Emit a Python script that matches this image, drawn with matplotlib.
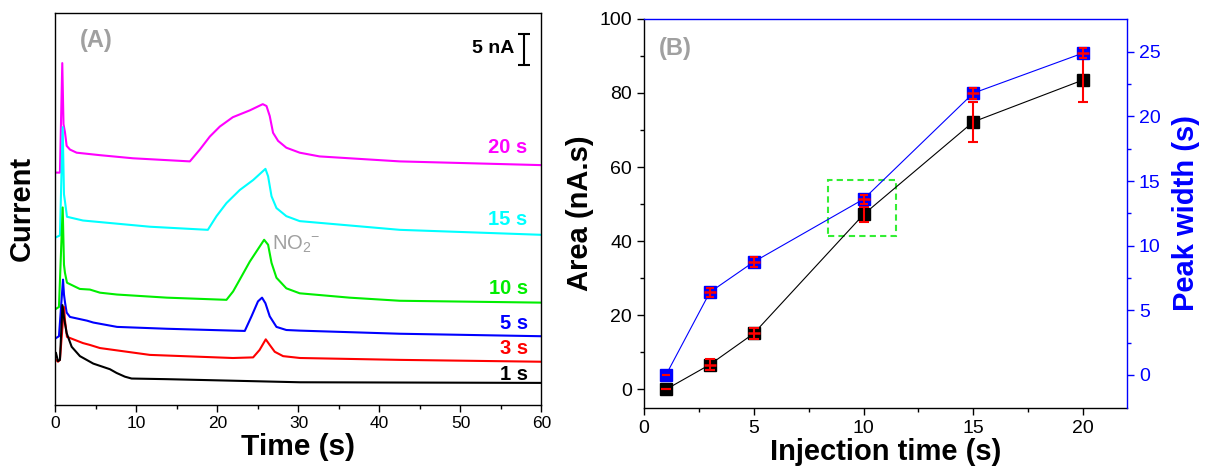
import numpy as np
import matplotlib
matplotlib.use('Agg')
import matplotlib.pyplot as plt
from matplotlib.patches import Rectangle

plt.rcParams['font.family'] = ['Liberation Sans', 'DejaVu Sans']
plt.rcParams['mathtext.fontset'] = 'custom'
plt.rcParams['mathtext.rm'] = 'Liberation Sans'

# ---- panel A: traces (time in s, current in nA, offset for display)
t_20 = [0.06, 0.55, 0.84, 0.99, 1.17, 1.38, 1.79, 2.61, 5.49, 9.56, 16.59, 17.82, 19.06, 20.29, 21.89, 23.99, 25.59,
        26.05, 26.45, 26.86, 27.48, 28.5, 30.15, 32.6, 42.5, 60]
i_20 = [37.3, 37.3, 54.9, 45.1, 43.8, 41.6, 41.0, 40.5, 40.1, 39.6, 39.1, 41.0, 43.1, 44.7, 46.2, 47.3, 48.3,
        48.0, 46.4, 43.7, 42.4, 41.3, 40.5, 39.9, 39.1, 38.5]

t_15 = [0.06, 0.55, 0.89, 1.05, 1.17, 1.42, 3.39, 11.65, 18.81, 19.88, 21.11, 22.75, 24.4, 25.92,
        26.25, 26.67, 27.28, 28.5, 30.15, 42.5, 60]
i_15 = [26.9, 27.2, 44.6, 33.8, 32.7, 30.2, 29.6, 28.6, 28.1, 30.3, 32.4, 34.5, 36.1, 37.9,
        36.7, 33.5, 31.6, 30.3, 29.5, 28.1, 27.3]

t_10 = [0.06, 0.43, 0.89, 1.05, 1.17, 1.42, 3.0, 4.25, 5.49, 7.6, 13.75, 21.11, 21.93, 22.75, 23.99, 25.76,
        26.25, 26.67, 27.28, 28.5, 30.15, 36.3, 42.5, 60]
i_10 = [15.4, 15.7, 31.7, 22.5, 21.2, 19.6, 18.6, 18.5, 18.0, 17.7, 17.2, 16.85, 18.2, 20.1, 23.0, 26.5,
        25.7, 22.8, 20.4, 18.7, 17.9, 17.2, 16.7, 16.4]

t_5 = [0.06, 0.43, 0.93, 1.05, 1.17, 1.38, 1.79, 3.9, 4.67, 7.6, 13.75, 23.37, 24.2, 25.0, 25.5, 25.92,
       26.45, 27.28, 28.5, 30.2, 42.5, 60]
i_5 = [10.7, 11.0, 20.1, 17.7, 16.5, 14.8, 14.1, 13.5, 13.2, 12.5, 12.2, 11.85, 14.2, 16.6, 17.2, 16.3,
       14.2, 12.5, 12.0, 11.9, 11.4, 11.0]

t_3 = [0.06, 0.31, 0.55, 1.05, 1.17, 1.42, 3.39, 4.25, 5.49, 11.65, 21.9, 24.4, 25.2, 25.96, 26.45, 27.07,
       28.1, 30.2, 42.5, 60]
i_3 = [7.2, 6.9, 7.2, 15.7, 13.6, 10.9, 9.9, 9.6, 9.1, 8.0, 7.5, 7.6, 8.8, 10.5, 9.6, 8.5,
       7.8, 7.5, 7.2, 6.9]

t_1 = [0.06, 0.31, 0.55, 0.86, 1.05, 1.38, 2.0, 3.02, 4.67, 6.72, 7.54, 8.57, 9.4, 13.7, 30.2, 60]
i_1 = [8.3, 7.0, 7.2, 16.0, 14.0, 11.5, 9.3, 7.8, 6.6, 5.7, 5.1, 4.5, 4.2, 4.1, 3.6, 3.5]

trace_labels = ['20 s', '15 s', '10 s', '5 s', '3 s', '1 s']
trace_colors = ['#ff00ff', '#00ffff', '#00ee00', '#0000ff', '#ff0000', '#000000']
label_y = [41.4, 29.8, 18.6, 13.1, 9.1, 4.9]

# ---- panel B data
inj_time = [1, 3, 5, 10, 15, 20]
area = [0, 6.7, 15.1, 47.2, 72.2, 83.5]
area_err = [0, 1.4, 1.4, 2.0, 5.4, 6.0]
width = [0, 6.4, 8.75, 13.6, 21.8, 24.9]
width_err = [0, 0.35, 0.4, 0.35, 0.42, 0.4]

fig = plt.figure(figsize=(12.06, 4.70), dpi=100)
axA = fig.add_axes([0.046, 0.139, 0.403, 0.834])
axB = fig.add_axes([0.534, 0.132, 0.4005, 0.828])

# ---------------- panel A
traces = [(t_20, i_20), (t_15, i_15), (t_10, i_10), (t_5, i_5), (t_3, i_3), (t_1, i_1)]
for (tt, ii), c in zip(traces, trace_colors):
    axA.plot(tt, ii, color=c, lw=1.5)
for lab, c, yy in zip(trace_labels, trace_colors, label_y):
    axA.text(58.3, yy, lab, color=c, fontsize=14.5, fontweight='bold', ha='right', va='center')

axA.set_xlim(0, 60)
axA.set_ylim(0, 63)
axA.set_xticks([0, 10, 20, 30, 40, 50, 60])
axA.set_xticks(np.arange(5, 60, 10), minor=True)
axA.set_yticks([])
axA.tick_params(axis='x', direction='out', length=5, width=1, labelsize=12.5)
axA.tick_params(axis='x', which='minor', direction='out', length=3, width=1)
axA.set_xlabel('Time (s)', fontsize=21.5, fontweight='bold', labelpad=1)
axA.set_ylabel('Current', fontsize=21, fontweight='bold', labelpad=14)
for s in axA.spines.values():
    s.set_linewidth(1)

axA.text(3.0, 58.5, '(A)', color='#a0a0a0', fontsize=17, fontweight='bold', va='center')
axA.text(56.7, 57.2, '5 nA', fontsize=14, fontweight='bold', ha='right', va='center')
axA.errorbar([57.8], [57.1], yerr=[2.5], color='black', capsize=4, elinewidth=1.5, capthick=1.5, fmt='none')
axA.text(26.7, 25.7, r'NO$_2$$^{-}$', color='#a0a0a0', fontsize=14.5, va='center')

# ---------------- panel B
axB2 = axB.twinx()
axB.plot(inj_time, area, color='black', lw=0.8, marker='s', ms=8.5, zorder=3)
axB.errorbar(inj_time, area, yerr=area_err, fmt='none', ecolor='red', elinewidth=1.5, capsize=3.5, capthick=1.5, zorder=4)
axB.plot(inj_time[1:3], area[1:3], ls='none', marker='_', ms=9, mew=1.8, color='red', zorder=5)
axB2.plot(inj_time, width, color='blue', lw=0.8, marker='s', ms=8.5, zorder=3)
axB2.errorbar(inj_time, width, yerr=width_err, fmt='none', ecolor='red', elinewidth=1.5, capsize=3, capthick=1.5, zorder=4)
axB2.plot(inj_time[1:], width[1:], ls='none', marker='_', ms=9, mew=1.8, color='red', zorder=5)

axB.add_patch(Rectangle((8.4, 41.5), 3.1, 15.1, fill=False, edgecolor='#33ee33', lw=1.5, ls=(0, (3, 2))))

axB.set_xlim(0, 22)
axB.set_ylim(-5, 100)
axB2.set_ylim(-2.55, 27.55)
axB.set_xticks([0, 5, 10, 15, 20])
axB.set_xticks([2.5, 7.5, 12.5, 17.5], minor=True)
axB.set_yticks([0, 20, 40, 60, 80, 100])
axB.set_yticks([10, 30, 50, 70, 90], minor=True)
axB2.set_yticks([0, 5, 10, 15, 20, 25])
axB2.set_yticks([2.5, 7.5, 12.5, 17.5, 22.5], minor=True)

axB.tick_params(axis='both', direction='out', length=5, width=1, labelsize=14)
axB.tick_params(axis='both', which='minor', direction='out', length=3, width=1)
axB2.tick_params(axis='y', direction='out', length=5, width=1, labelsize=14, colors='blue')
axB2.tick_params(axis='y', which='minor', direction='out', length=3, width=1, colors='blue')

axB.spines['top'].set_visible(False)
axB.spines['right'].set_visible(False)
axB2.spines['left'].set_visible(False)
axB2.spines['bottom'].set_visible(False)
axB2.spines['right'].set_color('blue')
axB2.spines['top'].set_color('blue')
for s in list(axB.spines.values()) + list(axB2.spines.values()):
    s.set_linewidth(1)

axB.set_xlabel('Injection time (s)', fontsize=21, fontweight='bold', labelpad=1)
axB.set_ylabel('Area (nA.s)', fontsize=21, fontweight='bold', labelpad=4)
axB2.set_ylabel('Peak width (s)', fontsize=21, fontweight='bold', color='blue', labelpad=8)

axB.text(0.7, 92, '(B)', color='#a0a0a0', fontsize=17, fontweight='bold', va='center')

fig.savefig('out.png', dpi=100)
